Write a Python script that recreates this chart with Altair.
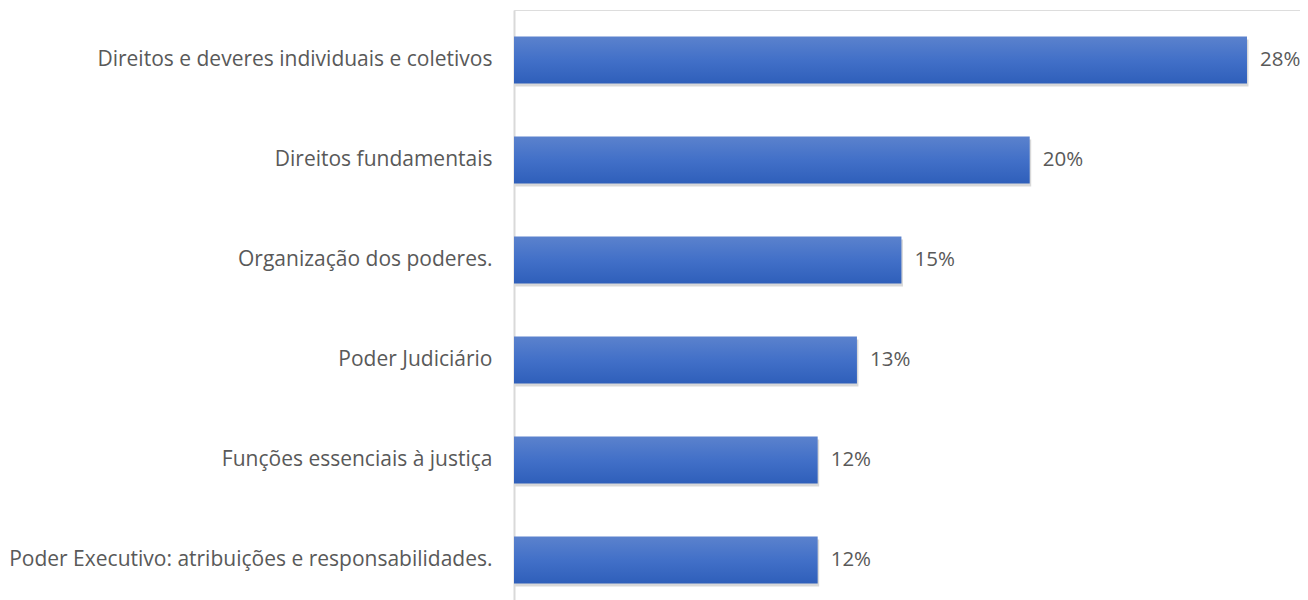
import altair as alt
import pandas as pd

categories = [
    "Direitos e deveres individuais e coletivos",
    "Direitos fundamentais",
    "Organização dos poderes.",
    "Poder Judiciário",
    "Funções essenciais à justiça",
    "Poder Executivo: atribuições e responsabilidades.",
]
values = [0.280, 0.197, 0.148, 0.131, 0.116, 0.116]

df = pd.DataFrame({"cat": categories, "val": values})

FONT = "Open Sans"
GRAY = "#595959"

y_enc = alt.Y("cat:N", sort=categories, title=None,
              scale=alt.Scale(paddingInner=0.53, paddingOuter=0.265),
              axis=alt.Axis(domainColor="#D9D9D9", domainWidth=2, ticks=False,
                            labelFont=FONT, labelFontSize=21, labelColor=GRAY,
                            labelPadding=22, labelLimit=600))
x_enc = alt.X("val:Q", title=None, scale=alt.Scale(domain=[0, 0.30025], nice=False),
              axis=None)

base = alt.Chart(df).encode(y=y_enc, x=x_enc)

shadow = base.mark_bar(color="#7f7f7f", opacity=0.3, xOffset=1.5, yOffset=3)

bars = base.mark_bar(color=alt.Gradient(
    gradient="linear", x1=0, x2=0, y1=0, y2=1,
    stops=[alt.GradientStop(color="#5B82CD", offset=0),
           alt.GradientStop(color="#4270C8", offset=0.5),
           alt.GradientStop(color="#2F5FBA", offset=1)]))

labels = base.mark_text(align="left", baseline="middle", dx=13, font=FONT,
                        fontSize=20.5, color=GRAY).encode(
    text=alt.Text("val:Q", format=".0%"))

chart = alt.layer(shadow, bars, labels).properties(
    width=786, height=600,
    autosize=alt.AutoSizeParams(type="none"),
    padding={"left": 506, "top": 2, "right": 0, "bottom": 0},
).configure_view(stroke=None).configure(background="white")

chart.save("out.html", embed_options={"renderer": "svg", "actions": False})
